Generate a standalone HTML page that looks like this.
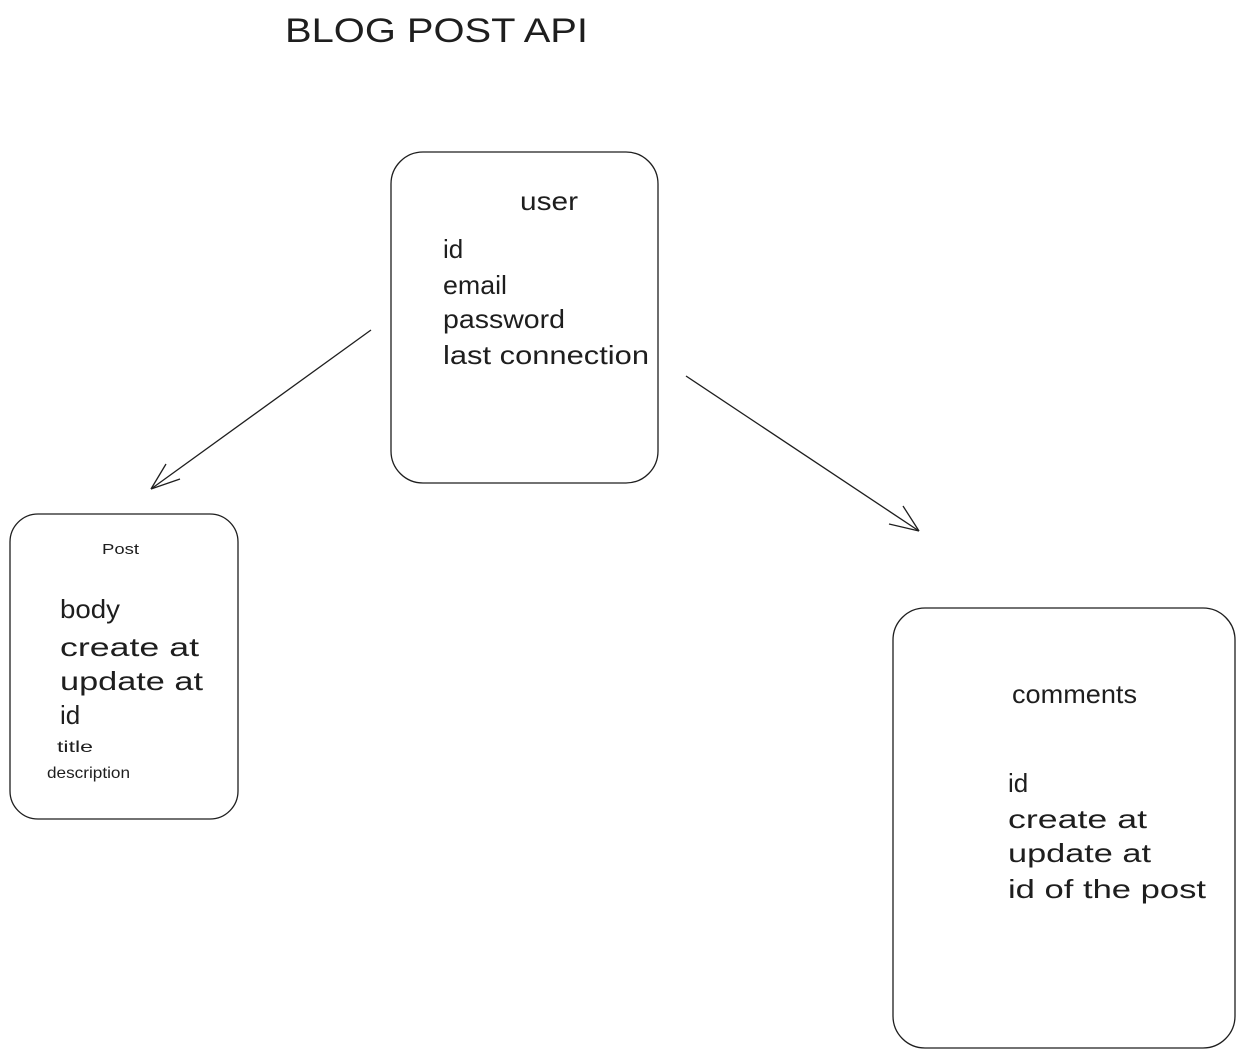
<!DOCTYPE html>
<html><head><meta charset="utf-8"><style>
html,body{margin:0;padding:0;background:#fff;}
svg{display:block;}
text{font-family:"Liberation Sans",sans-serif;fill:#1e1e1e;}
</style></head><body>
<svg width="1245" height="1058" viewBox="0 0 1245 1058" xmlns="http://www.w3.org/2000/svg">
<g fill="none" stroke="#1e1e1e" stroke-width="1.3">
<rect x="391" y="152" width="267" height="331" rx="32"/>
<rect x="10" y="514" width="228" height="305" rx="28"/>
<rect x="893" y="608" width="342" height="440" rx="32"/>
<line x1="371" y1="330" x2="151" y2="489"/>
<line x1="151" y1="489" x2="166" y2="464"/>
<line x1="151" y1="489" x2="180" y2="479"/>
<line x1="686" y1="376" x2="919" y2="531"/>
<line x1="919" y1="531" x2="889" y2="524"/>
<line x1="919" y1="531" x2="903" y2="506"/>
</g>
<text x="285" y="42" font-size="34" textLength="303" lengthAdjust="spacingAndGlyphs">BLOG POST API</text>
<g font-size="26">
<text x="520" y="210" textLength="58" lengthAdjust="spacingAndGlyphs">user</text>
<text x="443" y="258">id</text>
<text x="443" y="294" textLength="64" lengthAdjust="spacingAndGlyphs">email</text>
<text x="443" y="328" textLength="122" lengthAdjust="spacingAndGlyphs">password</text>
<text x="443" y="364" textLength="206" lengthAdjust="spacingAndGlyphs">last connection</text>

<text x="60" y="618" textLength="60" lengthAdjust="spacingAndGlyphs">body</text>
<text x="60" y="656" textLength="139" lengthAdjust="spacingAndGlyphs">create at</text>
<text x="60" y="690" textLength="143" lengthAdjust="spacingAndGlyphs">update at</text>
<text x="60" y="724">id</text>

<text x="1012" y="703" textLength="125" lengthAdjust="spacingAndGlyphs">comments</text>
<text x="1008" y="792">id</text>
<text x="1008" y="828" textLength="139" lengthAdjust="spacingAndGlyphs">create at</text>
<text x="1008" y="862" textLength="143" lengthAdjust="spacingAndGlyphs">update at</text>
<text x="1008" y="898" textLength="198" lengthAdjust="spacingAndGlyphs">id of the post</text>
</g>
<text x="102" y="554" font-size="15" textLength="37" lengthAdjust="spacingAndGlyphs">Post</text>
<text x="57" y="752" font-size="16" textLength="36" lengthAdjust="spacingAndGlyphs">title</text>
<text x="47" y="778" font-size="16" textLength="83" lengthAdjust="spacingAndGlyphs">description</text>
</svg>
</body></html>
